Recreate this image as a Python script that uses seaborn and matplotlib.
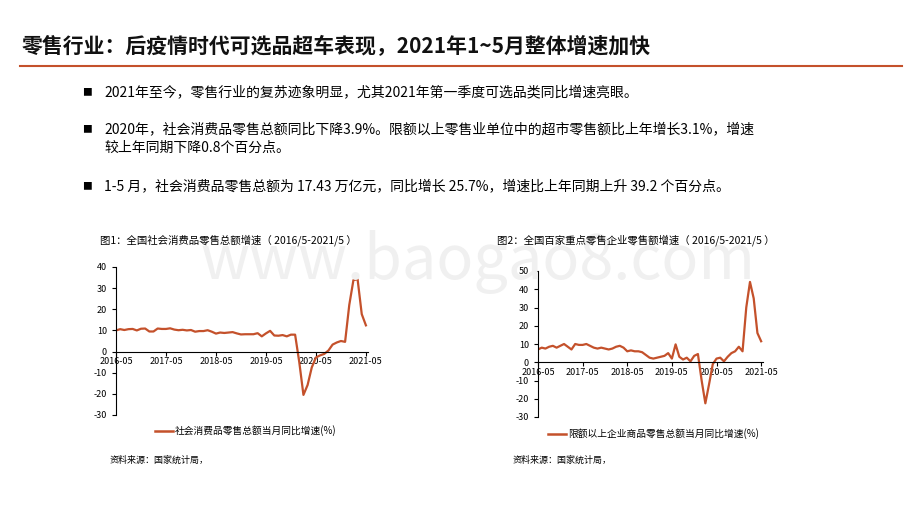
import numpy as np
import pandas as pd
import matplotlib
matplotlib.use("Agg")
import matplotlib.pyplot as plt
import seaborn as sns

plt.rcParams["font.family"] = ["Noto Sans CJK SC", "DejaVu Sans"]
plt.rcParams["axes.unicode_minus"] = False

months = pd.period_range("2016-05", "2021-05", freq="M").strftime("%Y-%m").tolist()
tick_labels = ["2016-05", "2017-05", "2018-05", "2019-05", "2020-05", "2021-05"]

retail_total = [10.0, 10.6, 10.2, 10.6, 10.7, 10.0, 10.8, 10.9,
                9.5, 9.5, 10.9, 10.7, 10.7, 11.0, 10.4, 10.1, 10.3, 10.0, 10.2, 9.4,
                9.7, 9.7, 10.1, 9.4, 8.5, 9.0, 8.8, 9.0, 9.2, 8.6, 8.1, 8.2,
                8.2, 8.2, 8.7, 7.2, 8.6, 9.8, 7.6, 7.5, 7.8, 7.2, 8.0, 8.0,
                -5.0, -20.5, -15.8, -7.5, -2.8, -1.8, -1.1, 0.5, 3.3, 4.3, 5.0, 4.6,
                22.0, 33.8, 34.2, 17.7, 12.4]
retail_top100 = [7.0, 8.0, 7.5, 8.5, 9.0, 8.0, 9.0, 10.0,
                 8.5, 7.0, 10.0, 9.5, 9.5, 10.0, 9.0, 8.0, 7.5, 8.0, 7.5, 7.0,
                 7.5, 8.5, 9.0, 8.0, 6.0, 6.5, 6.0, 6.0, 5.5, 4.0, 2.5, 2.0,
                 2.5, 3.0, 3.5, 5.0, 2.0, 9.8, 3.0, 1.5, 2.5, 0.5, 3.5, 4.5,
                 -10.0, -22.5, -12.0, -1.0, 2.0, 2.5, 0.5, 3.0, 5.0, 6.0, 8.5, 6.0,
                 30.0, 44.0, 35.0, 16.0, 11.5]

RED = "#c4512b"
fig = plt.figure(figsize=(9.2, 5.18), dpi=100)
W, H = 920, 518


def fx(px):
    return px / W


def fy(py):
    return 1 - py / H


fig.text(fx(22), fy(47), "零售行业：后疫情时代可选品超车表现，2021年1~5月整体增速加快",
         fontsize=15, fontweight="bold", va="center", color="#111111")
fig.add_artist(plt.Line2D([fx(20), fx(902)], [fy(66), fy(66)], color=RED, lw=1.5))
fig.text(fx(200), fy(262), "www.baogao8.com", fontsize=44, color="#f0f0f0", va="center", zorder=0)

bullets = [(92, "2021年至今，零售行业的复苏迹象明显，尤其2021年第一季度可选品类同比增速亮眼。"),
           (129, "2020年，社会消费品零售总额同比下降3.9%。限额以上零售业单位中的超市零售额比上年增长3.1%，增速"),
           (186, "1-5 月，社会消费品零售总额为 17.43 万亿元，同比增长 25.7%，增速比上年同期上升 39.2 个百分点。")]
for y, t in bullets:
    fig.text(fx(82), fy(y), "■", fontsize=7, va="center")
    fig.text(fx(104), fy(y), t, fontsize=10, va="center")
fig.text(fx(104), fy(148), "较上年同期下降0.8个百分点。", fontsize=10, va="center")


def draw(ax_box, values, ylim, step, title, title_pos, legend, legend_pos, src_pos):
    x0, x1, ytop, ybot = ax_box
    ax = fig.add_axes([fx(x0), fy(ybot), fx(x1) - fx(x0), fy(ytop) - fy(ybot)])
    df = pd.DataFrame({"x": np.arange(len(values)), "v": values})
    sns.lineplot(data=df, x="x", y="v", ax=ax, color=RED, lw=1.6)
    ax.set_ylim(*ylim)
    ax.set_xlim(0, len(values) - 1 + 0.5)
    ax.set_yticks(np.arange(ylim[0], ylim[1] + 1, step))
    ax.set_xticks([months.index(t) for t in tick_labels])
    ax.set_xticklabels(tick_labels)
    ax.spines["bottom"].set_position(("data", 0))
    for s in ["top", "right"]:
        ax.spines[s].set_visible(False)
    ax.tick_params(labelsize=6.5, length=3, width=0.8, direction="out")
    ax.tick_params(axis="x", pad=1)
    ax.set_xlabel("")
    ax.set_ylabel("")
    ax.set_facecolor("none")
    fig.text(fx(title_pos[0]), fy(title_pos[1]), title, fontsize=7.5, va="center")
    lx, ly = legend_pos
    fig.add_artist(plt.Line2D([fx(lx), fx(lx + 18)], [fy(ly), fy(ly)], color=RED, lw=1.8))
    fig.text(fx(lx + 20), fy(ly), legend, fontsize=7, va="center")
    fig.text(fx(src_pos[0]), fy(src_pos[1]), "资料来源：国家统计局，", fontsize=6.5, va="center")


draw((116, 368, 267, 415), retail_total, (-30, 40), 10,
     "图1：全国社会消费品零售总额增速（ 2016/5-2021/5 ）", (100, 240),
     "社会消费品零售总额当月同比增速(%)", (155, 431), (110, 460))
draw((538, 763, 271, 417), retail_top100, (-30, 50), 10,
     "图2：全国百家重点零售企业零售额增速（ 2016/5-2021/5 ）", (497, 240),
     "限额以上企业商品零售总额当月同比增速(%)", (548, 434), (513, 460))

fig.savefig("out.png", dpi=100)
